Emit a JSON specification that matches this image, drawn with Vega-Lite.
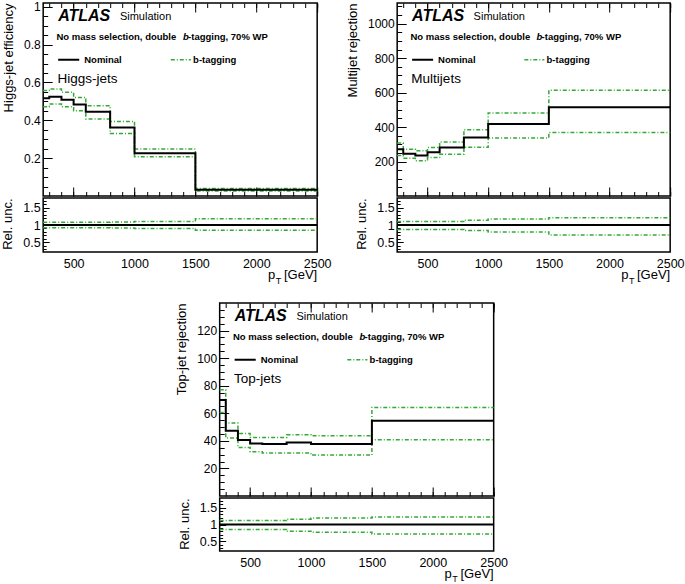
{
"$schema":"https://vega.github.io/schema/vega-lite/v6.json",
"padding":{"left":1,"top":0,"right":0,"bottom":0},
"background":"white",
"config":{"font":"Liberation Sans","view":{"stroke":"black","strokeWidth":1.5},
 "axis":{"domain":false,"grid":false,"labelFont":"Liberation Sans","labelFontSize":12,"labelColor":"black","tickColor":"black","tickWidth":1,"titleFont":"Liberation Sans","titleFontSize":13,"titleFontWeight":"normal","titleColor":"black","labelOverlap":false,"labelFlush":false,"labelBound":false},
 "text":{"font":"Liberation Sans","color":"black"}},
"datasets":{
 "higgs":[{"x":250,"nom":0.516,"up":0.557,"lo":0.472},{"x":300,"nom":0.525,"up":0.566,"lo":0.486},{"x":400,"nom":0.509,"up":0.548,"lo":0.472},{"x":500,"nom":0.484,"up":0.521,"lo":0.451},{"x":600,"nom":0.445,"up":0.477,"lo":0.407},{"x":800,"nom":0.362,"up":0.394,"lo":0.330},{"x":1000,"nom":0.226,"up":0.248,"lo":0.207},{"x":1500,"nom":0.033,"up":0.039,"lo":0.027},{"x":2500,"nom":0.033,"up":0.039,"lo":0.027}],
 "higgsR":[{"x":250,"rup":1.08,"rlo":0.92},{"x":300,"rup":1.08,"rlo":0.92},{"x":400,"rup":1.08,"rlo":0.92},{"x":500,"rup":1.08,"rlo":0.92},{"x":600,"rup":1.08,"rlo":0.92},{"x":800,"rup":1.085,"rlo":0.91},{"x":1000,"rup":1.1,"rlo":0.9},{"x":1500,"rup":1.18,"rlo":0.85},{"x":2500,"rup":1.18,"rlo":0.85}],
 "multi":[{"x":250,"nom":272,"up":307,"lo":235},{"x":300,"nom":245,"up":272,"lo":219},{"x":400,"nom":235,"up":262,"lo":204},{"x":500,"nom":254,"up":282,"lo":223},{"x":600,"nom":282,"up":313,"lo":243},{"x":800,"nom":340,"up":385,"lo":283},{"x":1000,"nom":418,"up":482,"lo":336},{"x":1500,"nom":515,"up":614,"lo":369},{"x":2500,"nom":515,"up":614,"lo":369}],
 "multiR":[{"x":250,"rup":1.1,"rlo":0.87},{"x":300,"rup":1.1,"rlo":0.87},{"x":400,"rup":1.1,"rlo":0.87},{"x":500,"rup":1.1,"rlo":0.87},{"x":600,"rup":1.1,"rlo":0.87},{"x":800,"rup":1.14,"rlo":0.84},{"x":1000,"rup":1.17,"rlo":0.8},{"x":1500,"rup":1.21,"rlo":0.71},{"x":2500,"rup":1.21,"rlo":0.71}],
 "top":[{"x":250,"nom":69.6,"up":77,"lo":60.6},{"x":300,"nom":47.3,"up":52.9,"lo":42},{"x":400,"nom":40.6,"up":45.4,"lo":35.2},{"x":500,"nom":38.1,"up":42.5,"lo":32.1},{"x":600,"nom":37.7,"up":42.5,"lo":31.2},{"x":800,"nom":38.8,"up":44.4,"lo":31.2},{"x":1000,"nom":37.7,"up":43.7,"lo":29.7},{"x":1500,"nom":54.6,"up":64.2,"lo":40.8},{"x":2500,"nom":54.6,"up":64.2,"lo":40.8}],
 "topR":[{"x":250,"rup":1.115,"rlo":0.855},{"x":300,"rup":1.115,"rlo":0.855},{"x":400,"rup":1.115,"rlo":0.855},{"x":500,"rup":1.115,"rlo":0.855},{"x":600,"rup":1.115,"rlo":0.855},{"x":800,"rup":1.155,"rlo":0.8},{"x":1000,"rup":1.19,"rlo":0.77},{"x":1500,"rup":1.22,"rlo":0.72},{"x":2500,"rup":1.22,"rlo":0.72}]
},
"vconcat":[
 {"hconcat":[
  {"vconcat":[
   {"width":274,"height":193,
    "layer":[
     {"data":{"name":"higgs"},
      "layer":[
       {"mark":{"type":"line","interpolate":"step-after","color":"#33aa33","strokeWidth":1.5,"strokeDash":[4,2,1,2]},
        "encoding":{"x":{"field":"x","type":"quantitative","scale":{"domain":[250,2500],"nice":false,"zero":false},"axis":{"orient":"bottom","title":null,"labels":false,"values":[500,1000,1500,2000,2500],"tickSize":-9}},
         "y":{"field":"up","type":"quantitative","scale":{"domain":[0,1.02],"nice":false},"axis":{"orient":"left","title":"Higgs-jet efficiency","titleAnchor":"end","titlePadding":8,"values":[0.2,0.4,0.6,0.8,1],"format":"~g","tickSize":-9,"labelPadding":12}}}},
       {"mark":{"type":"line","interpolate":"step-after","color":"#33aa33","strokeWidth":1.5,"strokeDash":[4,2,1,2]},
        "encoding":{"x":{"field":"x","type":"quantitative","axis":{"orient":"top","title":null,"labels":false,"values":[500,1000,1500,2000,2500],"tickSize":-9}},
         "y":{"field":"lo","type":"quantitative","axis":{"orient":"left","title":null,"labels":false,"values":[0.05,0.1,0.15,0.2,0.25,0.3,0.35,0.4,0.45,0.5,0.55,0.6,0.65,0.7,0.75,0.8,0.85,0.9,0.95,1],"tickSize":-4.5}}}},
       {"mark":{"type":"line","interpolate":"step-after","color":"black","strokeWidth":2},
        "encoding":{"x":{"field":"x","type":"quantitative","axis":{"orient":"bottom","title":null,"labels":false,"values":[300,400,500,600,700,800,900,1000,1100,1200,1300,1400,1500,1600,1700,1800,1900,2000,2100,2200,2300,2400,2500],"tickSize":-4.5}},"y":{"field":"nom","type":"quantitative","axis":null}}},
       {"mark":{"type":"line","opacity":0},
        "encoding":{"x":{"field":"x","type":"quantitative","axis":{"orient":"top","title":null,"labels":false,"values":[300,400,500,600,700,800,900,1000,1100,1200,1300,1400,1500,1600,1700,1800,1900,2000,2100,2200,2300,2400,2500],"tickSize":-4.5}},"y":{"field":"nom","type":"quantitative","axis":null}}}
      ],
      "resolve":{"axis":{"x":"independent","y":"independent"}}},
     {"data":{"values":[{}]},
      "layer":[
       {"mark":{"type":"text","text":"ATLAS","fontSize":16,"fontWeight":"bold","fontStyle":"italic","align":"left","baseline":"middle"},"encoding":{"x":{"datum":373,"type":"quantitative","axis":null},"y":{"datum":0.935,"type":"quantitative","scale":{"domain":[0,1]},"axis":null}}},
       {"mark":{"type":"text","text":"Simulation","fontSize":11,"align":"left","baseline":"middle"},"encoding":{"x":{"datum":880,"type":"quantitative","axis":null},"y":{"datum":0.93,"type":"quantitative","axis":null}}},
       {"mark":{"type":"text","text":"No mass selection, double","fontSize":9.5,"fontWeight":"bold","align":"left","baseline":"middle"},"encoding":{"x":{"datum":359,"type":"quantitative","axis":null},"y":{"datum":0.826,"type":"quantitative","axis":null}}},
       {"mark":{"type":"text","text":"b","fontSize":9.5,"fontWeight":"bold","fontStyle":"italic","align":"left","baseline":"middle"},"encoding":{"x":{"datum":1399,"type":"quantitative","axis":null},"y":{"datum":0.826,"type":"quantitative","axis":null}}},
       {"mark":{"type":"text","text":"-tagging, 70% WP","fontSize":9.5,"fontWeight":"bold","align":"left","baseline":"middle"},"encoding":{"x":{"datum":1440,"type":"quantitative","axis":null},"y":{"datum":0.826,"type":"quantitative","axis":null}}},
       {"mark":{"type":"rule","color":"black","strokeWidth":2},"encoding":{"x":{"datum":373,"type":"quantitative","axis":null},"x2":{"datum":546},"y":{"datum":0.706,"type":"quantitative","axis":null}}},
       {"mark":{"type":"text","text":"Nominal","fontSize":9.5,"fontWeight":"bold","align":"left","baseline":"middle"},"encoding":{"x":{"datum":587,"type":"quantitative","axis":null},"y":{"datum":0.706,"type":"quantitative","axis":null}}},
       {"mark":{"type":"rule","color":"#33aa33","strokeWidth":1.5,"strokeDash":[4,2,1,2]},"encoding":{"x":{"datum":1298,"type":"quantitative","axis":null},"x2":{"datum":1463},"y":{"datum":0.706,"type":"quantitative","axis":null}}},
       {"mark":{"type":"text","text":"b-tagging","fontSize":9.5,"fontWeight":"bold","align":"left","baseline":"middle"},"encoding":{"x":{"datum":1481,"type":"quantitative","axis":null},"y":{"datum":0.706,"type":"quantitative","axis":null}}},
       {"mark":{"type":"text","text":"Higgs-jets","fontSize":13.5,"align":"left","baseline":"middle"},"encoding":{"x":{"datum":367,"type":"quantitative","axis":null},"y":{"datum":0.606,"type":"quantitative","axis":null}}}
      ]}
    ],
    "resolve":{"scale":{"y":"independent"}}},
   {"width":274,"height":54,
    "data":{"name":"higgsR"},
    "layer":[
     {"data":{"values":[{}]},"mark":{"type":"rule","color":"black","strokeWidth":2},"encoding":{"y":{"datum":1,"type":"quantitative","scale":{"domain":[0.22,1.78],"nice":false,"zero":false},"axis":{"orient":"left","title":"Rel. unc.","titleAnchor":"end","titlePadding":8,"labelFontSize":12.5,"values":[0.5,1,1.5],"format":"~g","tickSize":-6,"labelPadding":9}}}},
     {"mark":{"type":"line","interpolate":"step-after","color":"#33aa33","strokeWidth":1.5,"strokeDash":[4,2,1,2]},
      "encoding":{"x":{"field":"x","type":"quantitative","scale":{"domain":[250,2500],"nice":false,"zero":false},"axis":{"orient":"bottom","title":null,"values":[500,1000,1500,2000,2500],"format":"d","ticks":false,"labelPadding":5,"labelFontSize":12.5}},"y":{"field":"rup","type":"quantitative","axis":{"orient":"left","title":null,"labels":false,"values":[0.3,0.4,0.5,0.6,0.7,0.8,0.9,1,1.1,1.2,1.3,1.4,1.5,1.6,1.7],"tickSize":-3}}}},
     {"mark":{"type":"line","interpolate":"step-after","color":"#33aa33","strokeWidth":1.5,"strokeDash":[4,2,1,2]},
      "encoding":{"x":{"field":"x","type":"quantitative"},"y":{"field":"rlo","type":"quantitative","axis":null}}},
     {"data":{"values":[{}]},"mark":{"type":"text","text":"[GeV]","fontSize":13,"align":"right","baseline":"alphabetic"},"encoding":{"x":{"datum":2500,"type":"quantitative"},"y":{"datum":-0.56,"type":"quantitative","axis":null}}},
     {"data":{"values":[{}]},"mark":{"type":"text","text":"p","fontSize":13,"align":"right","baseline":"alphabetic"},"encoding":{"x":{"datum":2156,"type":"quantitative"},"y":{"datum":-0.56,"type":"quantitative","axis":null}}},
     {"data":{"values":[{}]},"mark":{"type":"text","text":"T","fontSize":9,"align":"left","baseline":"alphabetic"},"encoding":{"x":{"datum":2160,"type":"quantitative"},"y":{"datum":-0.69,"type":"quantitative","axis":null}}}
    ],
    "resolve":{"axis":{"y":"independent"}}}
  ],"spacing":-6},
  {"vconcat":[
   {"width":273,"height":193,
    "layer":[
     {"data":{"name":"multi"},
      "layer":[
       {"mark":{"type":"line","interpolate":"step-after","color":"#33aa33","strokeWidth":1.5,"strokeDash":[4,2,1,2]},
        "encoding":{"x":{"field":"x","type":"quantitative","scale":{"domain":[250,2500],"nice":false,"zero":false},"axis":{"orient":"bottom","title":null,"labels":false,"values":[500,1000,1500,2000,2500],"tickSize":-9}},
         "y":{"field":"up","type":"quantitative","scale":{"domain":[0,1120],"nice":false},"axis":{"orient":"left","title":"Multijet rejection","titleAnchor":"end","titlePadding":8,"values":[200,400,600,800,1000],"format":"d","tickSize":-9,"labelPadding":12}}}},
       {"mark":{"type":"line","interpolate":"step-after","color":"#33aa33","strokeWidth":1.5,"strokeDash":[4,2,1,2]},
        "encoding":{"x":{"field":"x","type":"quantitative","axis":{"orient":"top","title":null,"labels":false,"values":[500,1000,1500,2000,2500],"tickSize":-9}},
         "y":{"field":"lo","type":"quantitative","axis":{"orient":"left","title":null,"labels":false,"values":[50,100,150,200,250,300,350,400,450,500,550,600,650,700,750,800,850,900,950,1000,1050,1100],"tickSize":-4.5}}}},
       {"mark":{"type":"line","interpolate":"step-after","color":"black","strokeWidth":2},
        "encoding":{"x":{"field":"x","type":"quantitative","axis":{"orient":"bottom","title":null,"labels":false,"values":[300,400,500,600,700,800,900,1000,1100,1200,1300,1400,1500,1600,1700,1800,1900,2000,2100,2200,2300,2400,2500],"tickSize":-4.5}},"y":{"field":"nom","type":"quantitative","axis":null}}},
       {"mark":{"type":"line","opacity":0},
        "encoding":{"x":{"field":"x","type":"quantitative","axis":{"orient":"top","title":null,"labels":false,"values":[300,400,500,600,700,800,900,1000,1100,1200,1300,1400,1500,1600,1700,1800,1900,2000,2100,2200,2300,2400,2500],"tickSize":-4.5}},"y":{"field":"nom","type":"quantitative","axis":null}}}
      ],
      "resolve":{"axis":{"x":"independent","y":"independent"}}},
     {"data":{"values":[{}]},
      "layer":[
       {"mark":{"type":"text","text":"ATLAS","fontSize":16,"fontWeight":"bold","fontStyle":"italic","align":"left","baseline":"middle"},"encoding":{"x":{"datum":373,"type":"quantitative","axis":null},"y":{"datum":0.935,"type":"quantitative","scale":{"domain":[0,1]},"axis":null}}},
       {"mark":{"type":"text","text":"Simulation","fontSize":11,"align":"left","baseline":"middle"},"encoding":{"x":{"datum":880,"type":"quantitative","axis":null},"y":{"datum":0.93,"type":"quantitative","axis":null}}},
       {"mark":{"type":"text","text":"No mass selection, double","fontSize":9.5,"fontWeight":"bold","align":"left","baseline":"middle"},"encoding":{"x":{"datum":359,"type":"quantitative","axis":null},"y":{"datum":0.826,"type":"quantitative","axis":null}}},
       {"mark":{"type":"text","text":"b","fontSize":9.5,"fontWeight":"bold","fontStyle":"italic","align":"left","baseline":"middle"},"encoding":{"x":{"datum":1399,"type":"quantitative","axis":null},"y":{"datum":0.826,"type":"quantitative","axis":null}}},
       {"mark":{"type":"text","text":"-tagging, 70% WP","fontSize":9.5,"fontWeight":"bold","align":"left","baseline":"middle"},"encoding":{"x":{"datum":1440,"type":"quantitative","axis":null},"y":{"datum":0.826,"type":"quantitative","axis":null}}},
       {"mark":{"type":"rule","color":"black","strokeWidth":2},"encoding":{"x":{"datum":373,"type":"quantitative","axis":null},"x2":{"datum":546},"y":{"datum":0.706,"type":"quantitative","axis":null}}},
       {"mark":{"type":"text","text":"Nominal","fontSize":9.5,"fontWeight":"bold","align":"left","baseline":"middle"},"encoding":{"x":{"datum":587,"type":"quantitative","axis":null},"y":{"datum":0.706,"type":"quantitative","axis":null}}},
       {"mark":{"type":"rule","color":"#33aa33","strokeWidth":1.5,"strokeDash":[4,2,1,2]},"encoding":{"x":{"datum":1298,"type":"quantitative","axis":null},"x2":{"datum":1463},"y":{"datum":0.706,"type":"quantitative","axis":null}}},
       {"mark":{"type":"text","text":"b-tagging","fontSize":9.5,"fontWeight":"bold","align":"left","baseline":"middle"},"encoding":{"x":{"datum":1481,"type":"quantitative","axis":null},"y":{"datum":0.706,"type":"quantitative","axis":null}}},
       {"mark":{"type":"text","text":"Multijets","fontSize":13.5,"align":"left","baseline":"middle"},"encoding":{"x":{"datum":367,"type":"quantitative","axis":null},"y":{"datum":0.606,"type":"quantitative","axis":null}}}
      ]}
    ],
    "resolve":{"scale":{"y":"independent"}}},
   {"width":273,"height":54,
    "data":{"name":"multiR"},
    "layer":[
     {"data":{"values":[{}]},"mark":{"type":"rule","color":"black","strokeWidth":2},"encoding":{"y":{"datum":1,"type":"quantitative","scale":{"domain":[0.22,1.78],"nice":false,"zero":false},"axis":{"orient":"left","title":"Rel. unc.","titleAnchor":"end","titlePadding":8,"labelFontSize":12.5,"values":[0.5,1,1.5],"format":"~g","tickSize":-6,"labelPadding":9}}}},
     {"mark":{"type":"line","interpolate":"step-after","color":"#33aa33","strokeWidth":1.5,"strokeDash":[4,2,1,2]},
      "encoding":{"x":{"field":"x","type":"quantitative","scale":{"domain":[250,2500],"nice":false,"zero":false},"axis":{"orient":"bottom","title":null,"values":[500,1000,1500,2000,2500],"format":"d","ticks":false,"labelPadding":5,"labelFontSize":12.5}},"y":{"field":"rup","type":"quantitative","axis":{"orient":"left","title":null,"labels":false,"values":[0.3,0.4,0.5,0.6,0.7,0.8,0.9,1,1.1,1.2,1.3,1.4,1.5,1.6,1.7],"tickSize":-3}}}},
     {"mark":{"type":"line","interpolate":"step-after","color":"#33aa33","strokeWidth":1.5,"strokeDash":[4,2,1,2]},
      "encoding":{"x":{"field":"x","type":"quantitative"},"y":{"field":"rlo","type":"quantitative","axis":null}}},
     {"data":{"values":[{}]},"mark":{"type":"text","text":"[GeV]","fontSize":13,"align":"right","baseline":"alphabetic"},"encoding":{"x":{"datum":2500,"type":"quantitative"},"y":{"datum":-0.56,"type":"quantitative","axis":null}}},
     {"data":{"values":[{}]},"mark":{"type":"text","text":"p","fontSize":13,"align":"right","baseline":"alphabetic"},"encoding":{"x":{"datum":2156,"type":"quantitative"},"y":{"datum":-0.56,"type":"quantitative","axis":null}}},
     {"data":{"values":[{}]},"mark":{"type":"text","text":"T","fontSize":9,"align":"left","baseline":"alphabetic"},"encoding":{"x":{"datum":2160,"type":"quantitative"},"y":{"datum":-0.69,"type":"quantitative","axis":null}}}
    ],
    "resolve":{"axis":{"y":"independent"}}}
  ],"spacing":-6}
 ],"spacing":13},
 {"vconcat":[
   {"width":274,"height":193,
    "layer":[
     {"data":{"name":"top"},
      "layer":[
       {"mark":{"type":"line","interpolate":"step-after","color":"#33aa33","strokeWidth":1.5,"strokeDash":[4,2,1,2]},
        "encoding":{"x":{"field":"x","type":"quantitative","scale":{"domain":[250,2500],"nice":false,"zero":false},"axis":{"orient":"bottom","title":null,"labels":false,"values":[500,1000,1500,2000,2500],"tickSize":-9}},
         "y":{"field":"up","type":"quantitative","scale":{"domain":[0,140],"nice":false},"axis":{"orient":"left","title":"Top-jet rejection","titleAnchor":"end","titlePadding":8,"values":[20,40,60,80,100,120],"format":"d","tickSize":-9,"labelPadding":12}}}},
       {"mark":{"type":"line","interpolate":"step-after","color":"#33aa33","strokeWidth":1.5,"strokeDash":[4,2,1,2]},
        "encoding":{"x":{"field":"x","type":"quantitative","axis":{"orient":"top","title":null,"labels":false,"values":[500,1000,1500,2000,2500],"tickSize":-9}},
         "y":{"field":"lo","type":"quantitative","axis":{"orient":"left","title":null,"labels":false,"values":[5,10,15,20,25,30,35,40,45,50,55,60,65,70,75,80,85,90,95,100,105,110,115,120,125,130,135],"tickSize":-4.5}}}},
       {"mark":{"type":"line","interpolate":"step-after","color":"black","strokeWidth":2},
        "encoding":{"x":{"field":"x","type":"quantitative","axis":{"orient":"bottom","title":null,"labels":false,"values":[300,400,500,600,700,800,900,1000,1100,1200,1300,1400,1500,1600,1700,1800,1900,2000,2100,2200,2300,2400,2500],"tickSize":-4.5}},"y":{"field":"nom","type":"quantitative","axis":null}}},
       {"mark":{"type":"line","opacity":0},
        "encoding":{"x":{"field":"x","type":"quantitative","axis":{"orient":"top","title":null,"labels":false,"values":[300,400,500,600,700,800,900,1000,1100,1200,1300,1400,1500,1600,1700,1800,1900,2000,2100,2200,2300,2400,2500],"tickSize":-4.5}},"y":{"field":"nom","type":"quantitative","axis":null}}}
      ],
      "resolve":{"axis":{"x":"independent","y":"independent"}}},
     {"data":{"values":[{}]},
      "layer":[
       {"mark":{"type":"text","text":"ATLAS","fontSize":16,"fontWeight":"bold","fontStyle":"italic","align":"left","baseline":"middle"},"encoding":{"x":{"datum":373,"type":"quantitative","axis":null},"y":{"datum":0.935,"type":"quantitative","scale":{"domain":[0,1]},"axis":null}}},
       {"mark":{"type":"text","text":"Simulation","fontSize":11,"align":"left","baseline":"middle"},"encoding":{"x":{"datum":880,"type":"quantitative","axis":null},"y":{"datum":0.93,"type":"quantitative","axis":null}}},
       {"mark":{"type":"text","text":"No mass selection, double","fontSize":9.5,"fontWeight":"bold","align":"left","baseline":"middle"},"encoding":{"x":{"datum":359,"type":"quantitative","axis":null},"y":{"datum":0.826,"type":"quantitative","axis":null}}},
       {"mark":{"type":"text","text":"b","fontSize":9.5,"fontWeight":"bold","fontStyle":"italic","align":"left","baseline":"middle"},"encoding":{"x":{"datum":1399,"type":"quantitative","axis":null},"y":{"datum":0.826,"type":"quantitative","axis":null}}},
       {"mark":{"type":"text","text":"-tagging, 70% WP","fontSize":9.5,"fontWeight":"bold","align":"left","baseline":"middle"},"encoding":{"x":{"datum":1440,"type":"quantitative","axis":null},"y":{"datum":0.826,"type":"quantitative","axis":null}}},
       {"mark":{"type":"rule","color":"black","strokeWidth":2},"encoding":{"x":{"datum":373,"type":"quantitative","axis":null},"x2":{"datum":546},"y":{"datum":0.706,"type":"quantitative","axis":null}}},
       {"mark":{"type":"text","text":"Nominal","fontSize":9.5,"fontWeight":"bold","align":"left","baseline":"middle"},"encoding":{"x":{"datum":587,"type":"quantitative","axis":null},"y":{"datum":0.706,"type":"quantitative","axis":null}}},
       {"mark":{"type":"rule","color":"#33aa33","strokeWidth":1.5,"strokeDash":[4,2,1,2]},"encoding":{"x":{"datum":1298,"type":"quantitative","axis":null},"x2":{"datum":1463},"y":{"datum":0.706,"type":"quantitative","axis":null}}},
       {"mark":{"type":"text","text":"b-tagging","fontSize":9.5,"fontWeight":"bold","align":"left","baseline":"middle"},"encoding":{"x":{"datum":1481,"type":"quantitative","axis":null},"y":{"datum":0.706,"type":"quantitative","axis":null}}},
       {"mark":{"type":"text","text":"Top-jets","fontSize":13.5,"align":"left","baseline":"middle"},"encoding":{"x":{"datum":367,"type":"quantitative","axis":null},"y":{"datum":0.606,"type":"quantitative","axis":null}}}
      ]}
    ],
    "resolve":{"scale":{"y":"independent"}}},
   {"width":274,"height":53,
    "data":{"name":"topR"},
    "layer":[
     {"data":{"values":[{}]},"mark":{"type":"rule","color":"black","strokeWidth":2},"encoding":{"y":{"datum":1,"type":"quantitative","scale":{"domain":[0.22,1.78],"nice":false,"zero":false},"axis":{"orient":"left","title":"Rel. unc.","titleAnchor":"end","titlePadding":8,"labelFontSize":12.5,"values":[0.5,1,1.5],"format":"~g","tickSize":-6,"labelPadding":9}}}},
     {"mark":{"type":"line","interpolate":"step-after","color":"#33aa33","strokeWidth":1.5,"strokeDash":[4,2,1,2]},
      "encoding":{"x":{"field":"x","type":"quantitative","scale":{"domain":[250,2500],"nice":false,"zero":false},"axis":{"orient":"bottom","title":null,"values":[500,1000,1500,2000,2500],"format":"d","ticks":false,"labelPadding":5,"labelFontSize":12.5}},"y":{"field":"rup","type":"quantitative","axis":{"orient":"left","title":null,"labels":false,"values":[0.3,0.4,0.5,0.6,0.7,0.8,0.9,1,1.1,1.2,1.3,1.4,1.5,1.6,1.7],"tickSize":-3}}}},
     {"mark":{"type":"line","interpolate":"step-after","color":"#33aa33","strokeWidth":1.5,"strokeDash":[4,2,1,2]},
      "encoding":{"x":{"field":"x","type":"quantitative"},"y":{"field":"rlo","type":"quantitative","axis":null}}},
     {"data":{"values":[{}]},"mark":{"type":"text","text":"[GeV]","fontSize":13,"align":"right","baseline":"alphabetic"},"encoding":{"x":{"datum":2500,"type":"quantitative"},"y":{"datum":-0.56,"type":"quantitative","axis":null}}},
     {"data":{"values":[{}]},"mark":{"type":"text","text":"p","fontSize":13,"align":"right","baseline":"alphabetic"},"encoding":{"x":{"datum":2156,"type":"quantitative"},"y":{"datum":-0.56,"type":"quantitative","axis":null}}},
     {"data":{"values":[{}]},"mark":{"type":"text","text":"T","fontSize":9,"align":"left","baseline":"alphabetic"},"encoding":{"x":{"datum":2160,"type":"quantitative"},"y":{"datum":-0.69,"type":"quantitative","axis":null}}}
    ],
    "resolve":{"axis":{"y":"independent"}}}
 ],"spacing":-6}
],
"spacing":14,
"center":true
}
